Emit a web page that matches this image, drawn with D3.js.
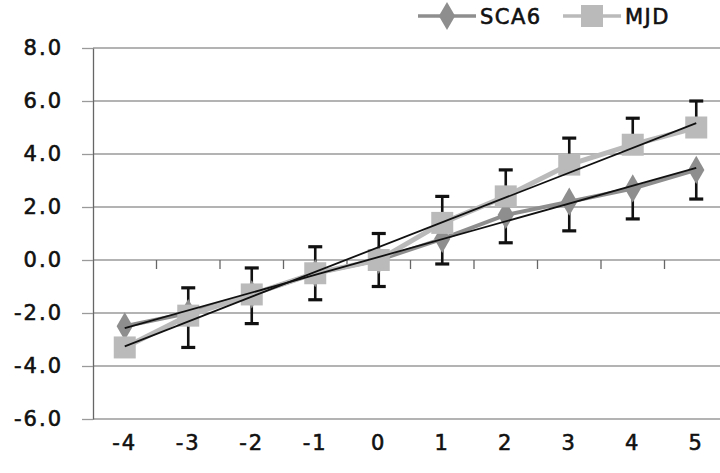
<html>
<head>
<meta charset="utf-8">
<title>SCA6 vs MJD</title>
<script src="https://d3js.org/d3.v7.min.js"></script>
<style>
  body { margin: 0; background: #fff; }
  text { font-family: "DejaVu Sans", sans-serif; stroke: #111; stroke-width: 0.6px; }
</style>
</head>
<body>
<script>
// values
const categories = [-4, -3, -2, -1, 0, 1, 2, 3, 4, 5];
const sca6 = [-2.5, -2.0, -1.3, -0.5, 0.0, 0.8, 1.7, 2.2, 2.7, 3.4];
const mjd = [-3.3, -2.1, -1.3, -0.5, 0.0, 1.4, 2.4, 3.6, 4.35, 5.0];
const sca6ErrMinus = [null, 1.3, 1.1, 1.0, 1.0, 0.95, 1.05, 1.1, 1.15, 1.1];
const mjdErrPlus = [null, 1.05, 1.0, 1.0, 1.0, 1.0, 1.0, 1.0, 1.0, 1.0];
const yTicks = [-6, -4, -2, 0, 2, 4, 6, 8];
const seriesNames = ["SCA6", "MJD"];

const width = 720, height = 473;
const plotLeft = 93, plotRight = 728, plotTop = 48, plotBottom = 419;

const svg = d3.select("body").append("svg")
    .attr("width", width)
    .attr("height", height);

const x = d3.scaleBand().domain(categories).range([plotLeft, plotRight]).padding(0);
const cx = c => x(c) + x.bandwidth() / 2;
const y = d3.scaleLinear().domain([-6, 8]).range([plotBottom, plotTop]);

// gridlines
svg.append("g")
    .selectAll("line")
    .data(yTicks)
    .join("line")
    .attr("x1", plotLeft).attr("x2", plotRight)
    .attr("y1", d => y(d)).attr("y2", d => y(d))
    .attr("stroke", "#9a9a9a")
    .attr("stroke-width", 1.3);

// y axis
const yAxis = svg.append("g")
    .attr("transform", `translate(${plotLeft},0)`)
    .call(d3.axisLeft(y).tickValues(yTicks).tickFormat(d => d.toFixed(1))
        .tickSize(11).tickSizeOuter(0).tickPadding(19));
yAxis.select(".domain").attr("stroke", "#666").attr("stroke-width", 1.3);
yAxis.selectAll(".tick line").attr("stroke", "#9a9a9a").attr("stroke-width", 1.3);
yAxis.selectAll("text")
    .attr("font-size", 21)
    .attr("letter-spacing", 2)
    .attr("fill", "#111");

// x axis at zero with boundary ticks
svg.append("g")
    .selectAll("line")
    .data(categories.slice(1).concat([null]))
    .join("line")
    .attr("x1", d => d === null ? plotRight : x(d))
    .attr("x2", d => d === null ? plotRight : x(d))
    .attr("y1", y(0)).attr("y2", y(0) + 9)
    .attr("stroke", "#666")
    .attr("stroke-width", 1.3);

const xAxis = svg.append("g")
    .attr("transform", `translate(0,${plotBottom})`)
    .call(d3.axisBottom(x).tickSize(0).tickPadding(16));
xAxis.select(".domain").remove();
xAxis.selectAll("text")
    .attr("font-size", 21)
    .attr("letter-spacing", 2)
    .attr("fill", "#111");

const line = d3.line().x((d, i) => cx(categories[i])).y(d => y(d));

const sca6Color = "#8e8e8e", mjdColor = "#bababa";
const diamond = d3.symbol().type(d3.symbolDiamond).size(230);

// series lines
svg.append("path").datum(sca6)
    .attr("d", line)
    .attr("fill", "none")
    .attr("stroke", sca6Color)
    .attr("stroke-width", 4);
svg.append("path").datum(mjd)
    .attr("d", line)
    .attr("fill", "none")
    .attr("stroke", mjdColor)
    .attr("stroke-width", 5);

// error bars (behind the markers)
function errorBars(values, errs, dir) {
    const g = svg.append("g").attr("stroke", "#111").attr("stroke-width", 2.6);
    values.forEach((v, i) => {
        if (errs[i] == null) return;
        const px = cx(categories[i]);
        const end = v + dir * errs[i];
        g.append("line").attr("x1", px).attr("x2", px)
            .attr("y1", y(v)).attr("y2", y(end));
        g.append("line").attr("x1", px - 7).attr("x2", px + 7)
            .attr("y1", y(end)).attr("y2", y(end))
            .attr("stroke-width", 3.2);
    });
}
errorBars(sca6, sca6ErrMinus, -1);
errorBars(mjd, mjdErrPlus, 1);

// markers
svg.append("g").selectAll("path")
    .data(sca6)
    .join("path")
    .attr("d", diamond)
    .attr("transform", (d, i) => `translate(${cx(categories[i])},${y(d)})`)
    .attr("fill", sca6Color);
svg.append("g").selectAll("rect")
    .data(mjd)
    .join("rect")
    .attr("x", (d, i) => cx(categories[i]) - 11)
    .attr("y", d => y(d) - 11)
    .attr("width", 22).attr("height", 22)
    .attr("fill", mjdColor);

// linear trend lines
function trend(values) {
    const mx = d3.mean(categories), my = d3.mean(values);
    const slope = d3.sum(categories, (c, i) => (c - mx) * (values[i] - my)) /
        d3.sum(categories, c => (c - mx) * (c - mx));
    const icpt = my - slope * mx;
    const c0 = categories[0], c1 = categories[categories.length - 1];
    svg.append("line")
        .attr("x1", cx(c0)).attr("y1", y(icpt + slope * c0))
        .attr("x2", cx(c1)).attr("y2", y(icpt + slope * c1))
        .attr("stroke", "#111")
        .attr("stroke-width", 1.8);
}
trend(sca6);
trend(mjd);

// legend
const legend = svg.append("g");
const leg = [
    {name: seriesNames[0], x0: 418, color: sca6Color, shape: "diamond"},
    {name: seriesNames[1], x0: 563, color: mjdColor, shape: "square"}
];
leg.forEach(l => {
    legend.append("line")
        .attr("x1", l.x0).attr("x2", l.x0 + 58)
        .attr("y1", 16).attr("y2", 16)
        .attr("stroke", l.color).attr("stroke-width", 3.5);
    if (l.shape === "diamond") {
        legend.append("path").attr("d", diamond)
            .attr("transform", `translate(${l.x0 + 29},16)`)
            .attr("fill", l.color);
    } else {
        legend.append("rect")
            .attr("x", l.x0 + 18).attr("y", 5)
            .attr("width", 22).attr("height", 22)
            .attr("fill", l.color);
    }
    legend.append("text")
        .attr("x", l.x0 + 62).attr("y", 16).attr("dy", "0.36em")
        .attr("font-size", 21)
        .attr("letter-spacing", 1.5)
        .attr("fill", "#111")
        .text(l.name);
});
</script>
</body>
</html>
